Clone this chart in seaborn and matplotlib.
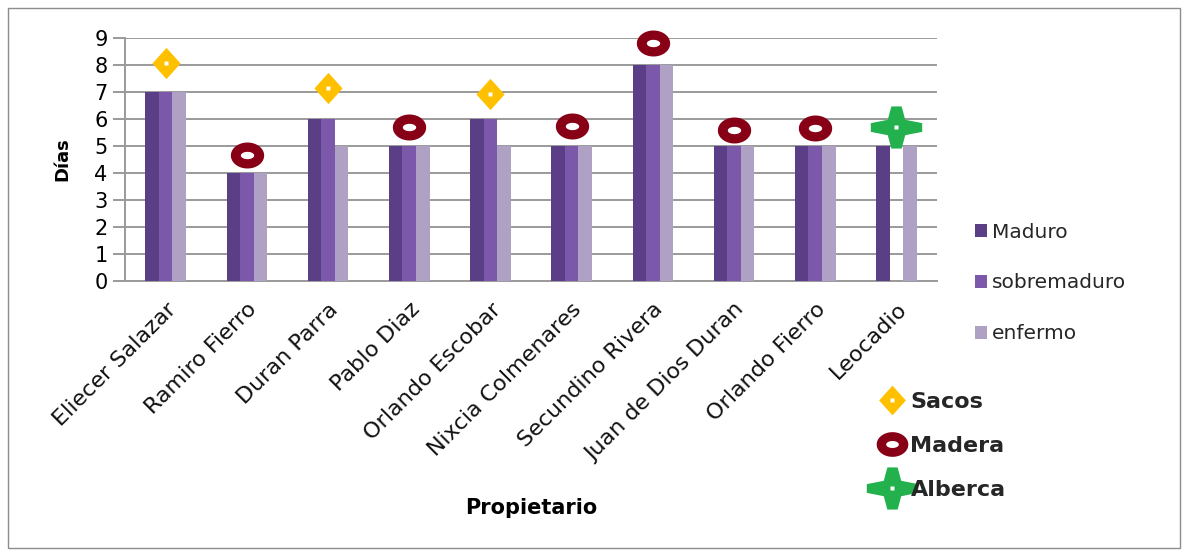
import numpy as np
import pandas as pd
import matplotlib
matplotlib.use("Agg")
import matplotlib.pyplot as plt
import seaborn as sns
from matplotlib.path import Path
from matplotlib.patches import Patch, Rectangle
from matplotlib.lines import Line2D

# ---------------- data ----------------
categories = ["Eliecer Salazar", "Ramiro Fierro", "Duran Parra", "Pablo Diaz",
              "Orlando Escobar", "Nixcia Colmenares", "Secundino Rivera",
              "Juan de Dios Duran", "Orlando Fierro", "Leocadio"]
series_names = ["Maduro", "sobremaduro", "enfermo"]
maduro = [7, 4, 6, 5, 6, 5, 8, 5, 5, 5]
sobremaduro = [7, 4, 6, 5, 6, 5, 8, 5, 5, 0]
enfermo = [7, 4, 5, 5, 5, 5, 8, 5, 5, 5]
storage = ["Sacos", "Madera", "Sacos", "Madera", "Sacos", "Madera",
           "Madera", "Madera", "Madera", "Alberca"]
storage_y = [8.09, 4.67, 7.14, 5.70, 6.93, 5.74, 8.83, 5.60, 5.67, 5.71]
storage_names = ["Sacos", "Madera", "Alberca"]
y_ticks = [0, 1, 2, 3, 4, 5, 6, 7, 8, 9]

bar_colors = ["#5b3f86", "#7b58aa", "#aea1c4"]
storage_colors = {"Sacos": "#ffc000", "Madera": "#870015", "Alberca": "#22b14c"}

df = pd.DataFrame({
    "Propietario": categories * 3,
    "Días": maduro + sobremaduro + enfermo,
    "Serie": sum([[s] * len(categories) for s in series_names], []),
})

# ---------------- custom markers ----------------
def ellipse(a, b, n=64, reverse=False):
    t = np.linspace(0, 2 * np.pi, n)
    if reverse:
        t = t[::-1]
    return np.column_stack([a * np.cos(t), b * np.sin(t)])

outer = ellipse(1.0, 0.78)
inner = ellipse(0.40, 0.22, reverse=True)
verts = np.vstack([outer, inner])
codes = ([Path.MOVETO] + [Path.LINETO] * (len(outer) - 2) + [Path.CLOSEPOLY]
         + [Path.MOVETO] + [Path.LINETO] * (len(inner) - 2) + [Path.CLOSEPOLY])
ring_marker = Path(verts, codes)

diamond_marker = Path([(0, 1), (0.9, 0), (0, -1), (-0.9, 0), (0, 1)],
                      [Path.MOVETO, Path.LINETO, Path.LINETO, Path.LINETO, Path.CLOSEPOLY])

cross_pts = [(1, -0.17), (1, 0.17), (0.34, 0.3), (0.2, 0.82), (-0.2, 0.82),
             (-0.34, 0.3), (-1, 0.17), (-1, -0.17), (-0.34, -0.3),
             (-0.2, -0.82), (0.2, -0.82), (0.34, -0.3), (1, -0.17)]
cross_marker = Path(cross_pts, [Path.MOVETO] + [Path.LINETO] * 11 + [Path.CLOSEPOLY])

marker_style = {
    "Sacos": dict(marker=diamond_marker, ms=22.5, dot=True),
    "Madera": dict(marker=ring_marker, ms=24, dot=False),
    "Alberca": dict(marker=cross_marker, ms=37, dot=True),
}

# ---------------- figure ----------------
sns.set_theme(style="white")
plt.rcParams["font.family"] = ["DejaVu Sans"]

W, H = 1182, 553
fig = plt.figure(figsize=(W / 100, H / 100), dpi=100)
left, right, top, bottom = 125, 937, 38, 281
ax = fig.add_axes([left / W, 1 - bottom / H, (right - left) / W, (bottom - top) / H])

sns.barplot(data=df, x="Propietario", y="Días", hue="Serie", hue_order=series_names,
            palette=bar_colors, width=0.5, saturation=1, ax=ax, legend=False,
            linewidth=0, zorder=3)

grid_c = "#9a9a9a"
ax.set_ylim(0, 9)
ax.set_xlim(-0.5, len(categories) - 0.5)
ax.set_yticks(y_ticks)
ax.set_yticklabels([str(v) for v in y_ticks], fontsize=15, color="black")
ax.yaxis.grid(True, color=grid_c, linewidth=1.4, zorder=0)
ax.set_axisbelow(True)
for s in ["top", "right"]:
    ax.spines[s].set_visible(False)
for s in ["left", "bottom"]:
    ax.spines[s].set_color(grid_c)
    ax.spines[s].set_linewidth(1.4)
ax.tick_params(axis="y", length=8.6, width=1.4, color=grid_c, pad=4, left=True)
ax.tick_params(axis="x", length=0, pad=13)
ax.set_xticks(range(len(categories)))
ax.set_xticklabels(categories, rotation=45, ha="right", rotation_mode="anchor",
                   fontsize=16, color="#111111")

ax.set_ylabel("Días", fontsize=13, fontweight="bold", color="black")
ax.yaxis.set_label_coords((71 - left) / (right - left), 0.5)
ax.set_xlabel("Propietario", fontsize=15, fontweight="bold", color="black")
ax.xaxis.set_label_coords(0.5, (bottom - 508) / (bottom - top))
ax.xaxis.label.set_va("center")

# storage markers
for name in storage_names:
    idx = [i for i, s in enumerate(storage) if s == name]
    ys = [storage_y[i] for i in idx]
    st = marker_style[name]
    ax.plot(idx, ys, ls="", marker=st["marker"], ms=st["ms"], mec="none",
            mfc=storage_colors[name], zorder=5, clip_on=False)
    if st["dot"]:
        ax.plot(idx, ys, ls="", marker="s", ms=2.2, mec="none", mfc="white",
                zorder=6, clip_on=False)

# legend for bars
bar_handles = [Patch(facecolor=c, edgecolor="none") for c in bar_colors]
leg1 = fig.legend(bar_handles, series_names, loc="center left",
                  bbox_to_anchor=(975 / W, 1 - 283 / H), frameon=False,
                  fontsize=14.5, handlelength=0.6, handleheight=0.6,
                  handletextpad=0.25, labelspacing=1.58, borderpad=0,
                  borderaxespad=0)

# legend for storage markers
mk_handles = []
for name in storage_names:
    st = marker_style[name]
    h_main = Line2D([], [], ls="", marker=st["marker"], ms=st["ms"] * (0.95 if name != "Alberca" else 1.0),
                    mec="none", mfc=storage_colors[name])
    if st["dot"]:
        h_dot = Line2D([], [], ls="", marker="s", ms=2.2, mec="none", mfc="white")
        mk_handles.append((h_main, h_dot))
    else:
        mk_handles.append(h_main)
leg2 = fig.legend(mk_handles, storage_names, loc="center left",
                  bbox_to_anchor=(876 / W, 1 - 446 / H), frameon=False,
                  prop={"size": 16, "weight": "bold"}, handlelength=1.45,
                  handletextpad=0.1, labelspacing=1.08, borderpad=0,
                  borderaxespad=0)

# outer chart border
fig.patches.append(Rectangle((8 / W, 1 - 548 / H), (1180 - 8) / W, (548 - 8) / H,
                             transform=fig.transFigure, fill=False,
                             edgecolor="#8c8c8c", linewidth=1.0))

fig.savefig("out.png", dpi=100)
